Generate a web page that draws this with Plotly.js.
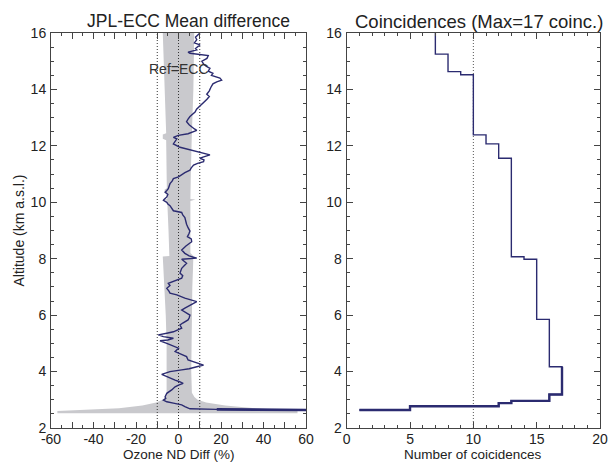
<!DOCTYPE html>
<html>
<head>
<meta charset="utf-8">
<script src="https://cdn.plot.ly/plotly-3.0.1.min.js"></script>
<style>html,body{margin:0;padding:0;background:#fff;}#chart{width:610px;height:463px;}</style>
</head>
<body>
<div id="chart"></div>
<script>
// Mean difference profile (altitude km, difference %)
const meanAlt = [16.0,15.85,15.76,15.65,15.58,15.45,15.4,15.32,15.28,15.25,15.2,15.1,15.0,14.9,14.82,14.75,14.65,14.57,14.5,14.4,14.33,14.27,14.2,14.07,13.95,13.83,13.75,13.65,13.5,13.4,13.3,13.2,13.1,13.04,12.95,12.86,12.75,12.67,12.6,12.55,12.48,12.43,12.37,12.3,12.25,12.15,12.07,11.95,11.89,11.8,11.77,11.72,11.68,11.6,11.56,11.5,11.44,11.38,11.32,11.22,11.14,11.05,10.96,10.9,10.84,10.75,10.66,10.55,10.48,10.42,10.36,10.28,10.19,10.1,10.07,10.0,9.94,9.88,9.78,9.7,9.64,9.55,9.46,9.35,9.22,9.1,8.98,8.9,8.78,8.7,8.6,8.45,8.31,8.19,8.1,8.02,7.98,7.84,7.75,7.66,7.49,7.4,7.31,7.25,7.13,7.05,6.95,6.85,6.78,6.72,6.65,6.6,6.48,6.36,6.25,6.18,6.1,6.0,5.9,5.83,5.72,5.65,5.54,5.47,5.41,5.36,5.3,5.24,5.18,5.12,5.09,5.0,4.93,4.88,4.83,4.71,4.62,4.53,4.41,4.35,4.29,4.23,4.17,4.1,4.06,4.0,3.9,3.82,3.76,3.7,3.64,3.58,3.52,3.46,3.35,3.28,3.23,3.11,3.05,2.99,2.93,2.88,2.82,2.76,2.68,2.66,2.65,2.64,2.64];
const meanDiff = [10.1,8.0,8.6,7.5,10.1,8.0,8.6,4.5,5.4,9.0,14.0,13.4,11.0,11.8,13.0,14.8,14.0,16.2,15.5,19.5,20.3,18.0,16.2,15.2,14.5,13.3,14.5,13.4,11.5,10.0,8.5,7.8,6.0,5.4,4.5,3.8,5.0,6.2,7.5,8.6,6.0,4.5,-0.1,-2.4,-0.8,-1.5,-2.4,0.7,3.8,7.5,10.1,12.0,14.8,11.5,10.1,12.0,11.8,9.0,7.1,6.0,5.4,3.0,1.5,0.0,-2.4,-3.0,-4.0,-4.3,-4.8,-5.5,-6.3,-5.0,-5.5,-6.8,-7.1,-5.5,-5.0,-4.0,-3.2,-2.4,1.5,2.0,3.0,3.3,3.8,4.5,5.4,5.0,4.2,6.0,6.2,3.5,1.5,3.0,5.0,8.6,1.5,3.8,2.5,1.5,0.7,2.0,1.5,-0.8,-4.8,-4.0,-5.5,-4.5,-4.0,-0.8,1.5,3.0,8.6,5.4,3.0,1.5,3.5,5.4,5.0,4.5,2.0,0.7,1.5,-0.5,-2.4,-5.5,-9.5,-7.1,-2.4,-5.0,-8.7,-5.5,-3.0,-0.8,0.0,-1.6,1.5,3.8,4.5,7.0,8.6,11.8,8.6,5.0,1.5,-4.0,-7.9,-5.5,-4.0,-1.6,0.5,2.2,0.0,-1.6,-3.2,-4.5,-5.5,-6.3,-6.0,-7.1,-5.5,-2.4,1.5,3.0,5.4,18.0,40.0,52.5,60.0];

// Spread envelope (altitude km, lower %, upper %)
const envAlt = [16.0,14.0,12.45,12.4,12.25,12.2,11.0,10.5,10.45,10.35,10.3,10.12,10.1,10.05,9.0,8.2,8.1,8.08,7.6,7.0,6.0,5.0,4.0,3.25,3.1,3.0,2.9,2.8,2.7,2.64,2.6,2.52];
const envLow = [-7.4,-6.5,-5.8,-7.4,-7.4,-5.8,-5.5,-5.5,-6.5,-6.5,-5.5,-5.3,-7.0,-5.3,-4.7,-4.3,-4.3,-7.4,-7.0,-6.6,-6.0,-5.6,-5.6,-5.6,-6.2,-7.5,-10.5,-17,-28,-45,-57,-57];
const envHigh = [7.4,7.0,6.3,6.3,6.3,6.2,5.8,5.6,5.6,5.6,5.6,5.6,8.0,5.6,5.6,5.6,7.0,7.0,6.8,6.5,6.4,6.0,6.0,6.3,7.5,9.0,13,22,36,50,56,56];

// Reference lines
const refLinesLeft = [-10, 0, 10];
const refLinesRight = [10];

// Coincidences step profile (count, upper altitude of layer)
const coincCount = [7,8,9,10,11,12,13,14,15,16,17,16,13,12,5,1];
const coincAlt = [16.0,15.25,14.63,14.52,12.39,12.07,11.56,8.07,7.98,5.85,4.17,3.19,2.96,2.88,2.77,2.64];

// Axis ticks
const leftTickVals = [-60,-50,-40,-30,-20,-10,0,10,20,30,40,50,60];
const leftTickText = ['-60','','-40','','-20','','0','','20','','40','','60'];
const rightTickVals = [0,5,10,15,20];
const altTickVals = [2,4,6,8,10,12,14,16];

const navy = '#2b2b70';
const gray = '#c9c9cd';
const yRange = [2,16];

const traces = [];
// envelope
traces.push({x: envLow, y: envAlt, type:'scatter', mode:'lines', line:{width:0,color:gray}, xaxis:'x', yaxis:'y', hoverinfo:'skip'});
traces.push({x: envHigh, y: envAlt, type:'scatter', mode:'lines', line:{width:0,color:gray}, fill:'tonextx', fillcolor:gray, xaxis:'x', yaxis:'y', hoverinfo:'skip'});
// dotted lines
refLinesLeft.forEach(v => traces.push({x:[v,v], y:yRange, type:'scatter', mode:'lines', line:{color:'#333', width:1, dash:'1px,2px'}, xaxis:'x', yaxis:'y'}));
refLinesRight.forEach(v => traces.push({x:[v,v], y:yRange, type:'scatter', mode:'lines', line:{color:'#555', width:1, dash:'1px,2px'}, xaxis:'x2', yaxis:'y2'}));
// mean line
traces.push({x: meanDiff, y: meanAlt, type:'scatter', mode:'lines', line:{color:navy, width:1.4}, xaxis:'x', yaxis:'y'});
// thicker bottom part of mean line
traces.push({x: meanDiff.slice(-4), y: meanAlt.slice(-4), type:'scatter', mode:'lines', line:{color:navy, width:2.6}, xaxis:'x', yaxis:'y'});
// coincidences
traces.push({x: coincCount, y: coincAlt, type:'scatter', mode:'lines', line:{color:navy, width:1.4, shape:'vh'}, xaxis:'x2', yaxis:'y2'});
traces.push({x: coincCount.slice(10), y: coincAlt.slice(10), type:'scatter', mode:'lines', line:{color:navy, width:2.4, shape:'vh'}, xaxis:'x2', yaxis:'y2'});

const axFont = {family:'Liberation Sans, Arial, sans-serif', size:14, color:'#222'};
const titleFont = {family:'Liberation Sans, Arial, sans-serif', size:13.5, color:'#222'};
const baseAxis = {
  showgrid:false, zeroline:false, showline:true, linecolor:'#444', linewidth:1,
  mirror:'ticks', ticks:'inside', ticklen:6, tickcolor:'#444', tickwidth:1,
  tickfont: axFont, fixedrange:true
};

const W = 610, H = 463;
const px = v => v / W, py = v => 1 - v / H;

const layout = {
  width: W, height: H,
  margin:{l:0,r:0,t:0,b:0},
  paper_bgcolor:'#fff', plot_bgcolor:'#fff',
  showlegend:false,
  font: axFont,
  xaxis: Object.assign({}, baseAxis, {domain:[px(51), px(306)], range:[-60,60], tickmode:'array', tickvals:leftTickVals, ticktext:leftTickText, ticklabelstandoff:-2, minor:{dtick:5, tick0:0, ticks:'inside', ticklen:3, tickcolor:'#444', showgrid:false}, anchor:'y'}),
  yaxis: Object.assign({}, baseAxis, {domain:[1-428/H, 1-33/H], range:yRange, tickmode:'array', tickvals:altTickVals, ticklabelstandoff:1, minor:{dtick:0.5, tick0:0, ticks:'inside', ticklen:3, tickcolor:'#444', showgrid:false}, anchor:'x'}),
  xaxis2: Object.assign({}, baseAxis, {domain:[px(346.7), px(600)], range:[0,20], tickmode:'array', tickvals:rightTickVals, ticklabelstandoff:-2, minor:{dtick:1, tick0:0, ticks:'inside', ticklen:3, tickcolor:'#444', showgrid:false}, anchor:'y2'}),
  yaxis2: Object.assign({}, baseAxis, {domain:[1-428/H, 1-33/H], range:yRange, tickmode:'array', tickvals:altTickVals, ticklabelstandoff:1, minor:{dtick:0.5, tick0:0, ticks:'inside', ticklen:3, tickcolor:'#444', showgrid:false}, anchor:'x2'}),
  annotations: [
    {text:'JPL-ECC Mean difference', xref:'paper', yref:'paper', x:px(188.8), y:py(21.5), xanchor:'center', yanchor:'middle', showarrow:false, font:{family:'Liberation Sans, Arial, sans-serif', size:17.5, color:'#222'}},
    {text:'Coincidences (Max=17 coinc.)', xref:'paper', yref:'paper', x:px(478.6), y:py(21.5), xanchor:'center', yanchor:'middle', showarrow:false, font:{family:'Liberation Sans, Arial, sans-serif', size:18.5, color:'#222'}},
    {text:'Ozone ND Diff (%)', xref:'paper', yref:'paper', x:px(179), y:0, xanchor:'center', yanchor:'bottom', borderpad:0, showarrow:false, font:titleFont},
    {text:'Number of coicidences', xref:'paper', yref:'paper', x:px(473.3), y:0, xanchor:'center', yanchor:'bottom', borderpad:0, showarrow:false, font:titleFont},
    {text:'Altitude (km a.s.l.)', xref:'paper', yref:'paper', x:px(18), y:py(230.5), xanchor:'center', yanchor:'middle', textangle:-90, showarrow:false, font:axFont},
    {text:'Ref=ECC', xref:'x', yref:'y', x:0, y:14.73, xanchor:'center', yanchor:'middle', showarrow:false, font:{family:'Liberation Sans, Arial, sans-serif', size:14, color:'#333'}}
  ]
};

Plotly.newPlot('chart', traces, layout, {staticPlot:true, displayModeBar:false});
</script>
</body>
</html>
